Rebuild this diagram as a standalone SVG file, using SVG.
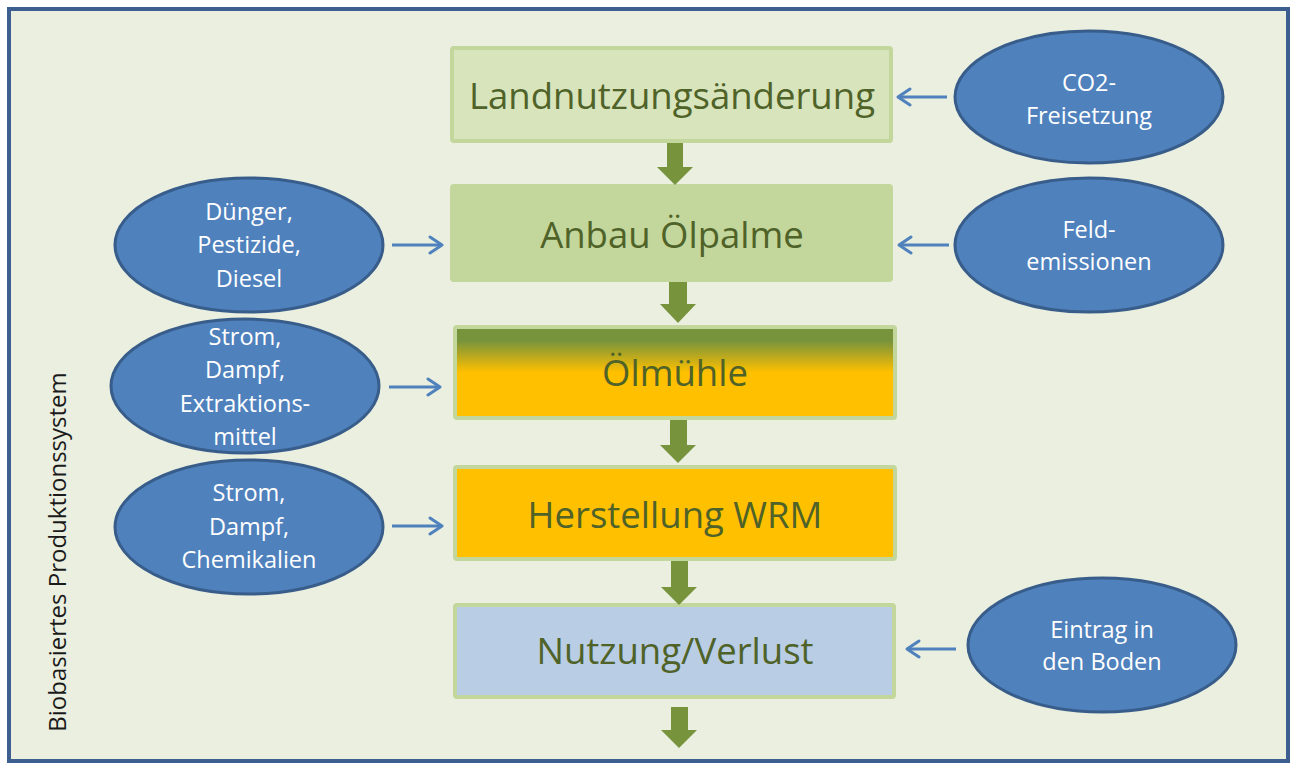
<svg xmlns="http://www.w3.org/2000/svg" width="1291" height="763" viewBox="0 0 1291 763">
<defs>
<linearGradient id="gMill" x1="0" y1="0" x2="0" y2="1">
<stop offset="0" stop-color="#77933C"/>
<stop offset="0.15" stop-color="#77933C"/>
<stop offset="0.5" stop-color="#FFC000"/>
<stop offset="1" stop-color="#FFC000"/>
</linearGradient>
<marker id="ahs" viewBox="0 0 16 20" refX="14" refY="10" markerWidth="16" markerHeight="20" markerUnits="userSpaceOnUse" orient="auto">
<path d="M2,2 L14,10 L2,18" fill="none" stroke="#4F81BD" stroke-width="3" stroke-linecap="round" stroke-linejoin="round"/>
</marker>
</defs>
<style>
.frame{fill:#EAEFDF;stroke:#3C5F8F;stroke-width:4}
.box{stroke:#C3D69B;stroke-width:4}
.btxt{font-family:"Open Sans","Noto Sans",sans-serif;font-size:36.5px;fill:#4F6228;text-anchor:middle}
.ell{fill:#4F81BD;stroke:#385D8A;stroke-width:3}
.etxt{font-family:"Open Sans","Noto Sans",sans-serif;font-size:23.5px;fill:#FFFFFF;text-anchor:middle}
.big{fill:#77933C}
.small{fill:none;stroke:#4F81BD;stroke-width:3;marker-end:url(#ahs)}
.side{font-family:"Open Sans","Noto Sans",sans-serif;font-size:24px;fill:#1A1A1A;text-anchor:middle}
</style>
<rect class="frame" x="9" y="9" width="1279" height="752"/>
<text class="side" x="66" y="552" transform="rotate(-90 66 552)">Biobasiertes Produktionssystem</text>

<g id="landnutzung">
<rect class="box" x="452" y="48" width="439" height="93" rx="2" fill="#D8E4BC"/>
<text class="btxt" x="672" y="109">Landnutzungsänderung</text>
</g>
<g id="anbau">
<rect class="box" x="452" y="186" width="439" height="94" rx="2" fill="#C3D69B"/>
<text class="btxt" x="672" y="248">Anbau Ölpalme</text>
</g>
<g id="oelmuehle">
<rect class="box" x="455" y="327" width="440" height="91" rx="2" fill="url(#gMill)"/>
<text class="btxt" x="675" y="386">Ölmühle</text>
</g>
<g id="herstellung">
<rect class="box" x="455" y="467" width="440" height="92" rx="2" fill="#FFC000"/>
<text class="btxt" x="675" y="528">Herstellung WRM</text>
</g>
<g id="nutzung">
<rect class="box" x="455" y="605" width="439" height="92" rx="2" fill="#B9CDE5"/>
<text class="btxt" x="675" y="664">Nutzung/Verlust</text>
</g>

<g id="co2">
<ellipse class="ell" cx="1089" cy="97" rx="134" ry="66"/>
<text class="etxt" x="1089" y="91">CO2-</text>
<text class="etxt" x="1089" y="124">Freisetzung</text>
</g>
<g id="feld">
<ellipse class="ell" cx="1089" cy="245" rx="134" ry="67"/>
<text class="etxt" x="1089" y="238">Feld-</text>
<text class="etxt" x="1089" y="270">emissionen</text>
</g>
<g id="eintrag">
<ellipse class="ell" cx="1102" cy="645" rx="134" ry="67"/>
<text class="etxt" x="1102" y="638">Eintrag in</text>
<text class="etxt" x="1102" y="670">den Boden</text>
</g>
<g id="duenger">
<ellipse class="ell" cx="249" cy="245" rx="134" ry="67"/>
<text class="etxt" x="249" y="220">Dünger,</text>
<text class="etxt" x="249" y="253">Pestizide,</text>
<text class="etxt" x="249" y="287">Diesel</text>
</g>
<g id="strom1">
<ellipse class="ell" cx="245" cy="386" rx="134" ry="67"/>
<text class="etxt" x="245" y="345">Strom,</text>
<text class="etxt" x="245" y="378">Dampf,</text>
<text class="etxt" x="245" y="412">Extraktions-</text>
<text class="etxt" x="245" y="445">mittel</text>
</g>
<g id="strom2">
<ellipse class="ell" cx="249" cy="527" rx="134" ry="67"/>
<text class="etxt" x="249" y="501">Strom,</text>
<text class="etxt" x="249" y="535">Dampf,</text>
<text class="etxt" x="249" y="568">Chemikalien</text>
</g>

<g id="connectors">
<polygon class="big" points="667,143 683,143 683,167 693,167 675,185 657,167 667,167"/>
<polygon class="big" points="669,282 687,282 687,304 696,304 678,323 660,304 669,304"/>
<polygon class="big" points="670,420 687,420 687,445 696,445 678,463 660,445 670,445"/>
<polygon class="big" points="671,561 688,561 688,587 697,587 679,605 661,587 671,587"/>
<polygon class="big" points="671,707 688,707 688,730 697,730 679,748 661,730 671,730"/>
<line class="small" x1="947" y1="97" x2="898" y2="97"/>
<line class="small" x1="949" y1="245" x2="899" y2="245"/>
<line class="small" x1="956" y1="649" x2="907" y2="649"/>
<line class="small" x1="392" y1="245" x2="442" y2="245"/>
<line class="small" x1="389" y1="387" x2="440" y2="387"/>
<line class="small" x1="392" y1="526" x2="442" y2="526"/>
</g>
</svg>
